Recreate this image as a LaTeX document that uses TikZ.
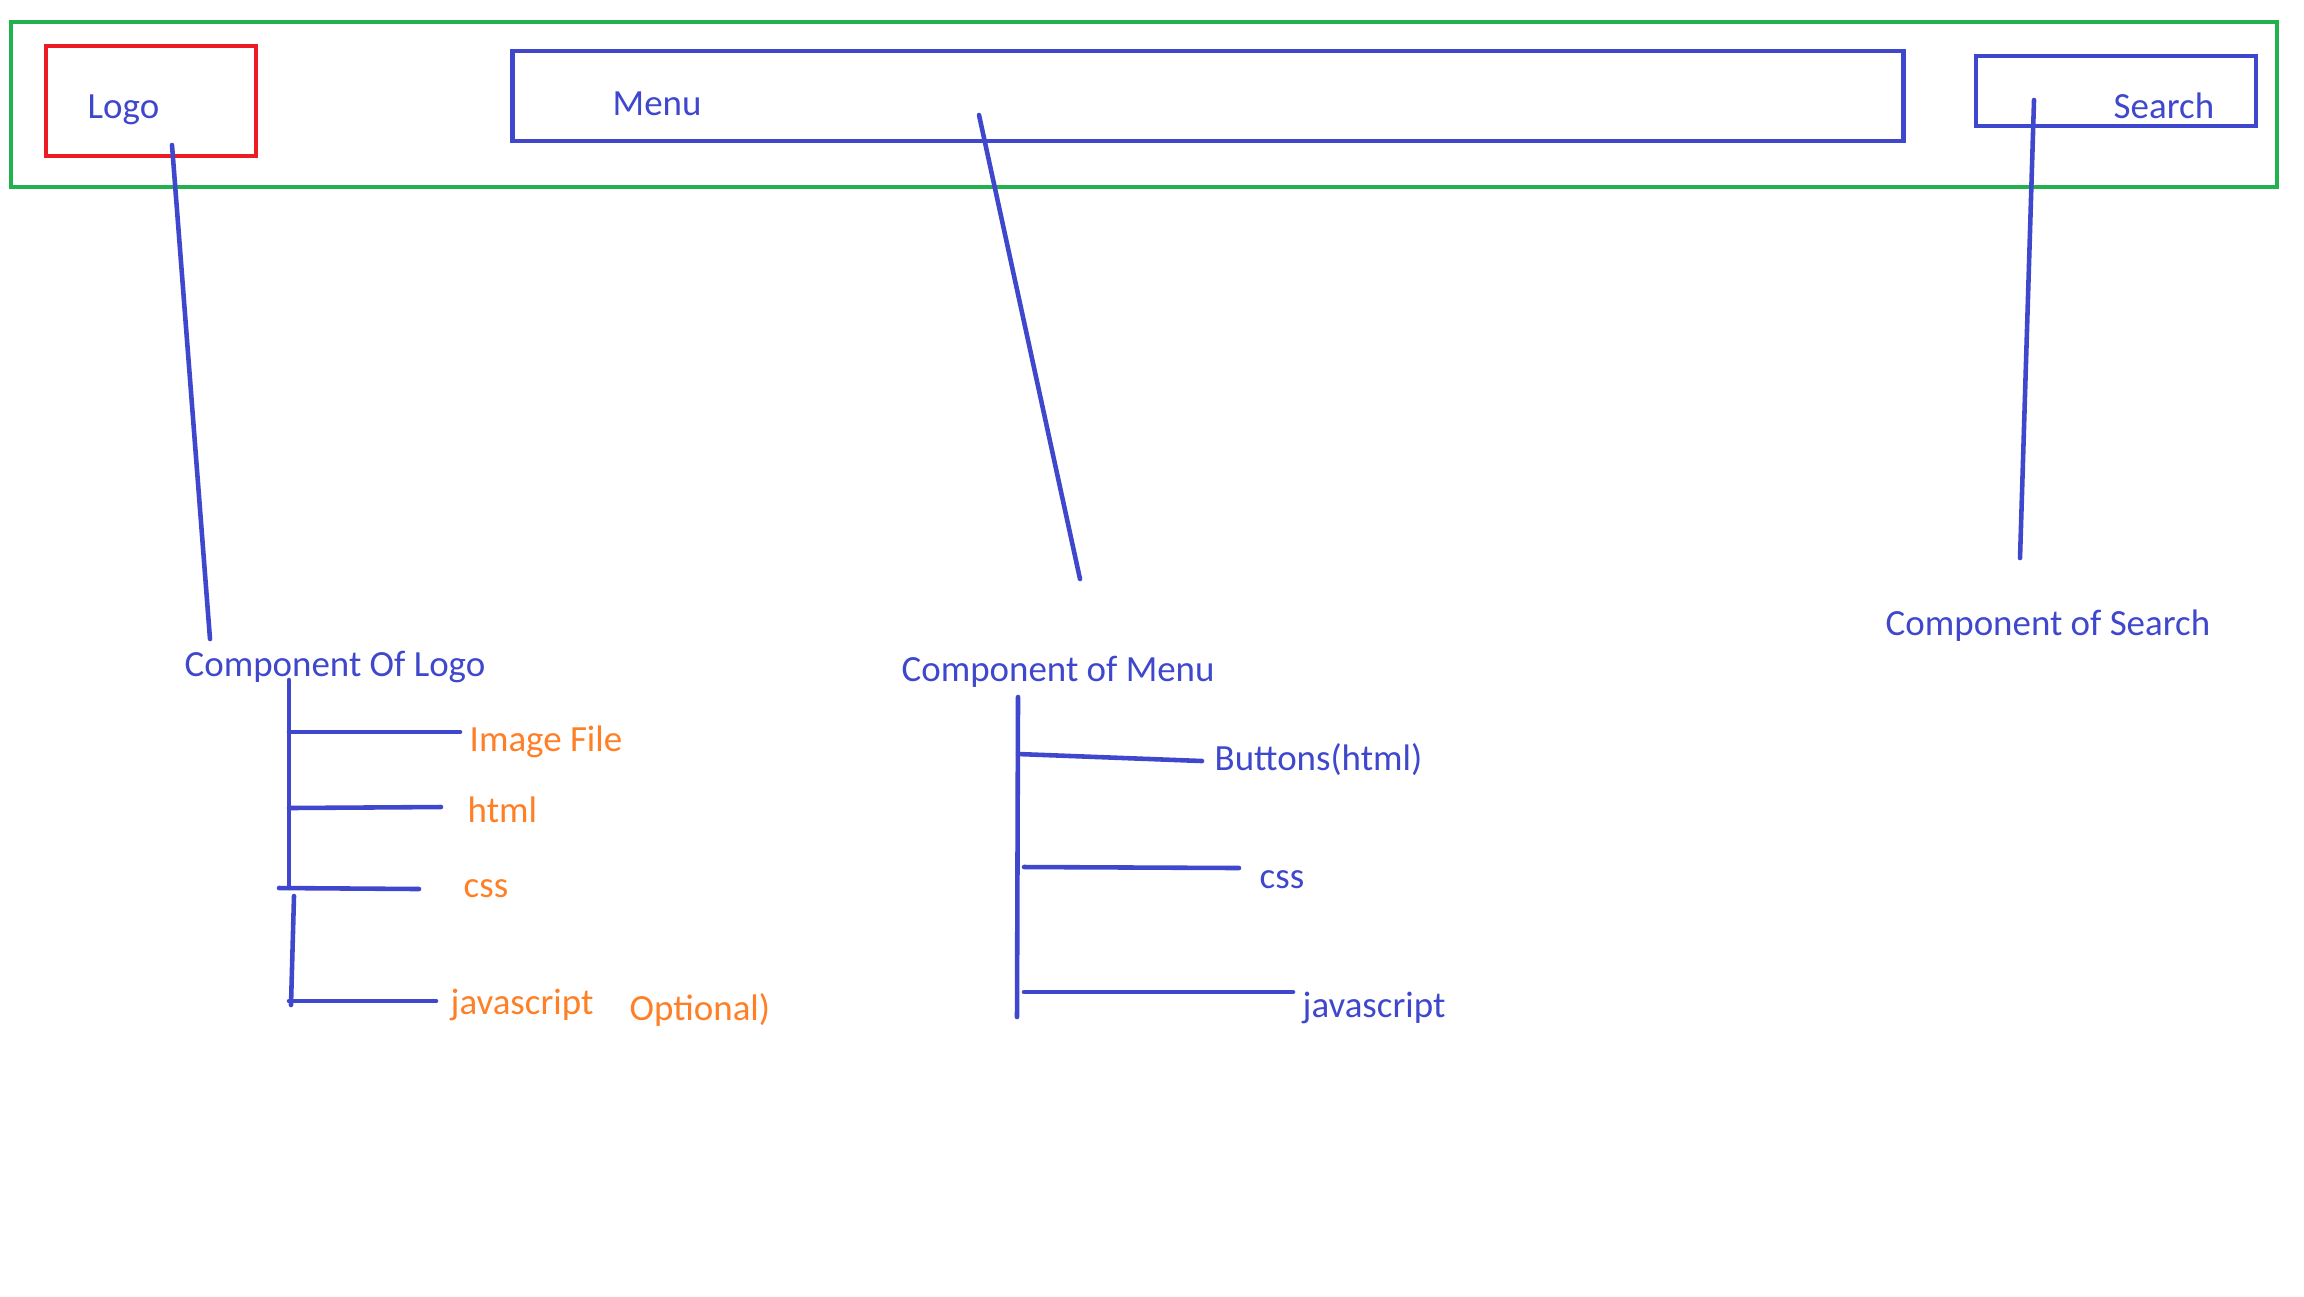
\documentclass[tikz,border=0pt]{standalone}
\usepackage{fontspec}
\setmainfont{Carlito}
\usetikzlibrary{positioning, calc}
\definecolor{paintblue}{HTML}{3F48CC}
\definecolor{paintred}{HTML}{ED1C24}
\definecolor{paintgreen}{HTML}{22B14C}
\definecolor{paintorange}{HTML}{FF7F27}

\begin{document}
\begin{tikzpicture}[
  x=0.01cm, y=-0.01cm,
  every node/.style={font=\fontsize{10.5}{12.6}\selectfont, inner sep=0pt},
  frame/.style={draw=paintgreen, line width=1.1pt},
  navbox/.style={draw=paintblue, line width=1.2pt},
  logobox/.style={draw=paintred, line width=1.2pt},
  lbl/.style={text=paintblue, anchor=west},
  item/.style={text=paintorange, anchor=west},
  wire/.style={draw=paintblue, line width=1.3pt, line cap=round}
]
\useasboundingbox (0,0) rectangle (2304,1296);

% ---- HEADER BAR ----
\node[frame, minimum width=22.64cm, minimum height=1.65cm] (bar) at (1144,104.5) {};
\node[logobox, minimum width=2.10cm, minimum height=1.10cm] (logo) at (151,101) {};
\node[navbox, minimum width=13.90cm, minimum height=0.90cm] (menu) at (1208,96) {};
\node[navbox, minimum width=2.80cm, minimum height=0.70cm] (search) at (2116,91) {};

\node[lbl] (logotxt) at (87,110) {Logo};
\node[lbl] (menutxt) at (612,104) {Menu};
\node[lbl] (searchtxt) at (2113,106) {Search};

% ---- COMPONENT LABELS ----
\node[lbl] (clogo) at (184,667) {Component Of Logo};
\node[lbl] (cmenu) at (901,672) {Component of Menu};
\node[lbl] (csearch) at (1885,626) {Component of Search};

% ---- LINKS FROM BAR ----
\coordinate (logoA) at (172,145);
\coordinate (logoB) at (210,639);
\coordinate (menuA) at (979,115);
\coordinate (menuB) at (1080,579);
\coordinate (searchA) at (2034,100);
\coordinate (searchB) at (2020,558);
\draw[wire] (logoA) -- (logoB);
\draw[wire] (menuA) -- (menuB);
\draw[wire] (searchA) -- (searchB);

% ==== LOGO TREE ====
\node[item] (imgfile) at (469,742) {Image File};
\node[item] (lhtml) at (467,810) {html};
\node[item] (lcss) at (463,889) {css};
\node[item] (ljs) at (450,1005) {javascript};
\node[item] (optional) at (629,1010) {Optional)};

\coordinate (lt1) at (289,680);
\coordinate (lt2) at (289,888);
\coordinate (lt3) at (294,896);
\coordinate (lt4) at (291,1005);
\draw[wire] (lt1) -- (lt2);
\draw[wire] (lt3) -- (lt4);

\coordinate (limgA) at (289,732);
\coordinate (limgB) at (460,732);
\coordinate (lhtmlA) at (289,808);
\coordinate (lhtmlB) at (441,807);
\coordinate (lcssA) at (279,888);
\coordinate (lcssB) at (419,889);
\coordinate (ljsA) at (289,1001);
\coordinate (ljsB) at (436,1001);
\draw[wire] (limgA) -- (limgB);
\draw[wire] (lhtmlA) -- (lhtmlB);
\draw[wire] (lcssA) -- (lcssB);
\draw[wire] (ljsA) -- (ljsB);

% ==== MENU TREE ====
\node[lbl] (mbtn) at (1214,760) {Buttons(html)};
\node[lbl] (mcss) at (1259,880) {css};
\node[lbl] (mjs) at (1302,1008) {javascript};

\coordinate (mt1) at (1018,697);
\coordinate (mt2) at (1017,1017);
\draw[wire] (mt1) -- (mt2);

\coordinate (mbtnA) at (1018,754);
\coordinate (mbtnB) at (1202,761);
\coordinate (mcssA) at (1024,867);
\coordinate (mcssB) at (1239,868);
\coordinate (mjsA) at (1024,992);
\coordinate (mjsB) at (1293,992);
\draw[wire] (mbtnA) -- (mbtnB);
\draw[wire] (mcssA) -- (mcssB);
\draw[wire] (mjsA) -- (mjsB);

\end{tikzpicture}
\end{document}
